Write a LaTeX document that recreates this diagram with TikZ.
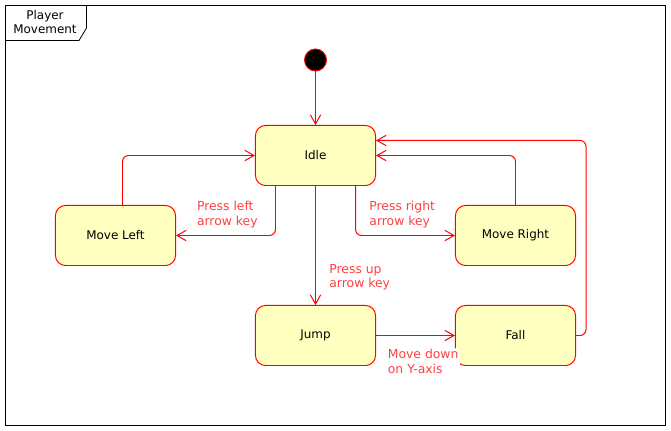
\documentclass[tikz,border=0pt]{standalone}
\usepackage{fontspec}
\setmainfont{DejaVu Sans}
\usetikzlibrary{positioning,arrows.meta,calc}
\usepackage{xcolor}
\definecolor{umlred}{HTML}{FF0000}
\definecolor{umlfill}{HTML}{FFFFC0}
\definecolor{umllabel}{HTML}{FF4040}

\begin{document}
\begin{tikzpicture}[
    x=0.025cm, y=-0.025cm,
    line width=0.7pt,
    statenode/.style={draw=umlred, fill=umlfill, rounded corners=0.25cm, minimum width=3cm, minimum height=1.5cm, font=\fontsize{8.5}{10}\selectfont},
    trans/.style={draw=umlred, rounded corners=0.15cm, -{Straight Barb[length=2.3mm,width=2.6mm]}},
    translabel/.style={text=umllabel, fill=white, align=left, inner sep=1pt, font=\fontsize{8.8}{10.2}\selectfont},
]
\useasboundingbox (0,0) rectangle (671,431);

% frame with title tab
\draw[line width=0.6pt] (5.5,5.5) rectangle (665.5,425.5);
\draw[line width=0.6pt] (5.5,40.5) -- (79,40.5) -- (86.5,28) -- (86.5,5.5);
\node[align=center, font=\fontsize{8.5}{10}\selectfont] (title) at (45,22) {Player\\Movement};

% states
\node[circle, draw=umlred, fill=black, minimum size=0.55cm, inner sep=0pt] (start) at (315.5,60) {};
\node[statenode] (idle) at (315.5,155.5) {Idle};
\node[statenode] (mleft) at (115.5,235.5) {Move Left};
\node[statenode] (mright) at (515.5,235.5) {Move Right};
\node[statenode] (jump) at (315.5,335.5) {Jump};
\node[statenode] (fall) at (515.5,335.5) {Fall};

% transitions
\draw[trans] (start) -- (idle);
\draw[trans] ([xshift=0.175cm]mleft.north) |- (idle.west);
\draw[trans] ([xshift=-1cm]idle.south) |- (mleft.east)
    node[translabel, pos=0.5, anchor=south east, xshift=-0.4cm, yshift=0.15cm] {Press left\\arrow key};
\draw[trans] ([xshift=1cm]idle.south) |- (mright.west)
    node[translabel, pos=0.5, anchor=south west, xshift=0.3cm, yshift=0.15cm] {Press right\\arrow key};
\draw[trans] (mright.north) |- (idle.east);
\draw[trans] (fall.east) -- ++(10,0) |- ([yshift=0.375cm]idle.east);
\draw[trans] (idle.south) -- (jump.north)
    node[translabel, pos=0.64, anchor=north west, xshift=0.3cm] {Press up\\arrow key};
\draw[trans] (jump.east) -- (fall.west)
    node[translabel, pos=0, anchor=north west, xshift=0.25cm, yshift=-0.3cm] {Move down\\on Y-axis};
\end{tikzpicture}
\end{document}
